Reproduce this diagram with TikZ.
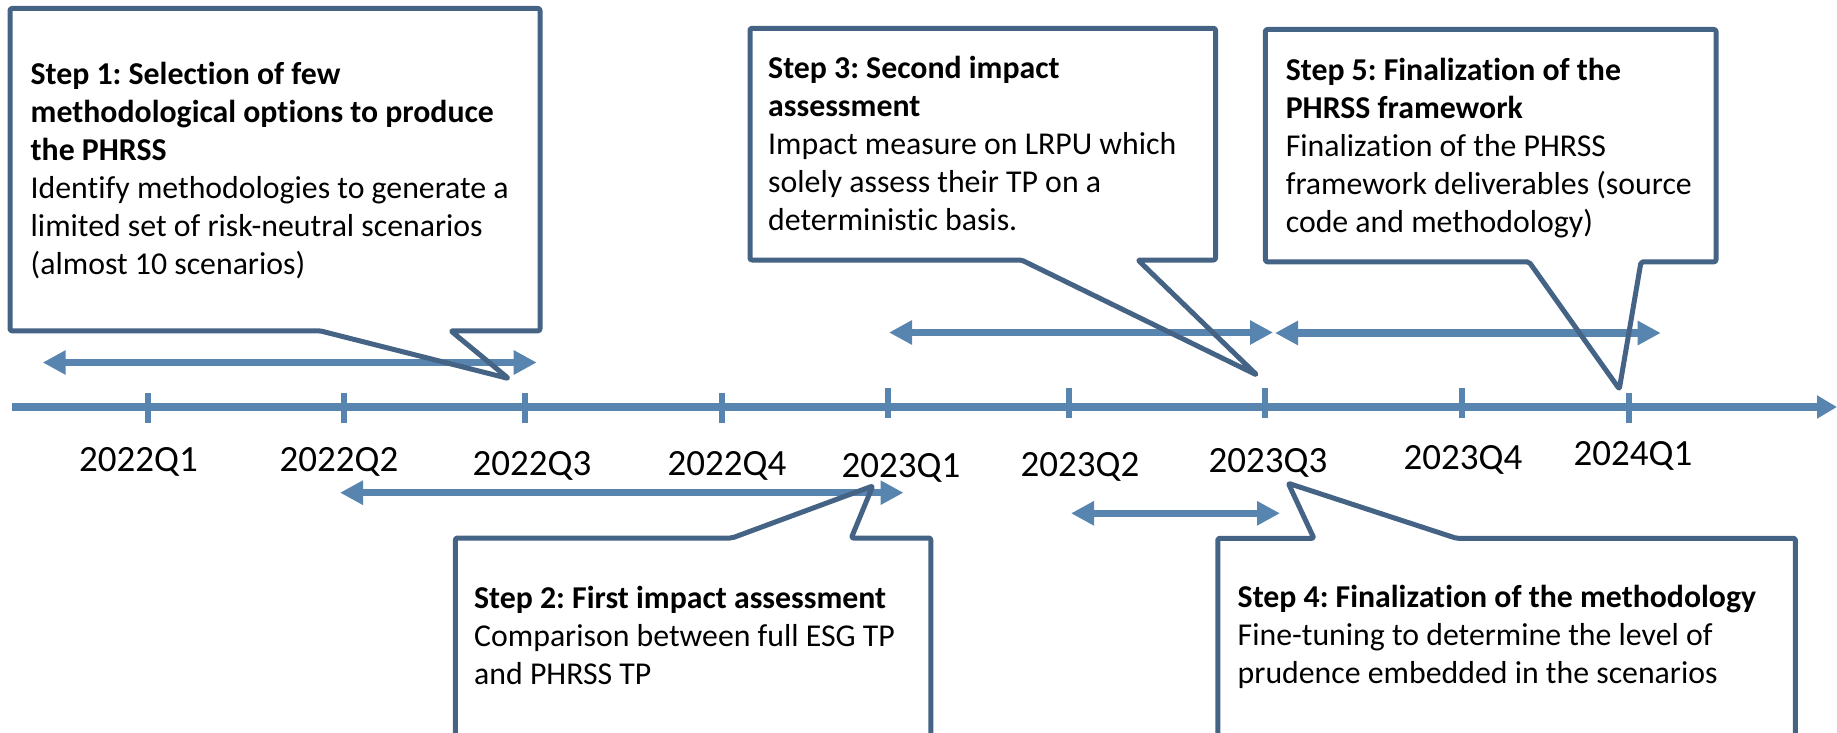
\documentclass[tikz,border=0pt]{standalone}
\usepackage{fontspec}
\setmainfont{Carlito}[Ligatures=NoCommon]
\usetikzlibrary{arrows.meta,positioning}

\definecolor{lineblue}{RGB}{88,132,176}
\definecolor{boxblue}{RGB}{68,99,133}

\begin{document}
\frenchspacing
\begin{tikzpicture}[
  x=1pt, y=-1pt,
  steptext/.style={
    anchor=base west,
    inner sep=0pt,
    align=left,
    font=\fontsize{31.8}{38}\selectfont
  },
  qlabel/.style={
    anchor=base,
    inner sep=0pt,
    font=\fontsize{37}{44}\selectfont
  },
  callout/.style={draw=boxblue, line width=5pt, line join=round, rounded corners=2pt},
  timeline/.style={draw=lineblue, line width=8.3pt, -{Triangle[length=20pt,width=22pt]}},
  qtick/.style={draw=lineblue, line width=6pt},
  span/.style={draw=lineblue, line width=7.5pt,
    {Triangle[length=23pt,width=23pt]}-{Triangle[length=23pt,width=23pt]}}
]
\useasboundingbox (0,0) rectangle (1837,733);

% time axis
\coordinate (axstart) at (12,407);
\coordinate (axend) at (1837,407);
\draw[timeline] (axstart) -- (axend);

\draw[qtick] (147.7,393) -- (147.7,423);
\draw[qtick] (344.3,393) -- (344.3,423);
\draw[qtick] (525.4,393) -- (525.4,423);
\draw[qtick] (722,393) -- (722,423);
\draw[qtick] (888.3,388) -- (888.3,418);
\draw[qtick] (1069,388) -- (1069,418);
\draw[qtick] (1265,388) -- (1265,418);
\draw[qtick] (1462,388) -- (1462,418);
\draw[qtick] (1629,393) -- (1629,423);

\node[qlabel] (q22a) at (138.5,471.7) {2022Q1};
\node[qlabel] (q22b) at (339,471.7) {2022Q2};
\node[qlabel] (q22c) at (532,475) {2022Q3};
\node[qlabel] (q22d) at (727,475) {2022Q4};
\node[qlabel] (q23a) at (901,477) {2023Q1};
\node[qlabel] (q23b) at (1080,476.5) {2023Q2};
\node[qlabel] (q23c) at (1268,472) {2023Q3};
\node[qlabel] (q23d) at (1463,469.5) {2023Q4};
\node[qlabel] (q24a) at (1633,465.5) {2024Q1};

% step durations
\coordinate (s1a) at (42.7,362.5);
\coordinate (s1b) at (536.7,362.5);
\coordinate (s2a) at (340,492.7);
\coordinate (s2b) at (903.5,492.7);
\coordinate (s3a) at (889,332.5);
\coordinate (s3b) at (1273,332.5);
\coordinate (s4a) at (1071,513.3);
\coordinate (s4b) at (1280,513.3);
\coordinate (s5a) at (1275,333);
\coordinate (s5b) at (1660.7,333);
\draw[span] (s1a) -- (s1b);
\draw[span] (s2a) -- (s2b);
\draw[span] (s3a) -- (s3b);
\draw[span] (s4a) -- (s4b);
\draw[span] (s5a) -- (s5b);

% callouts
\draw[callout] (10,8.5) -- (540,8.5) -- (540,330.8) -- (450.8,330.8)
  -- (508.5,378.5) -- (320,330.8) -- (10,330.8) -- cycle;
\draw[callout] (455.4,760) -- (455.4,538) -- (732,538) -- (872.7,486)
  -- (851.3,538) -- (930.8,538) -- (930.8,760);
\draw[callout] (750,28.3) -- (1215.5,28.3) -- (1215.5,260) -- (1138,260)
  -- (1256.8,375) -- (1021.5,260) -- (750,260) -- cycle;
\draw[callout] (1217.8,760) -- (1217.8,538.3) -- (1313.9,538.3) -- (1288.3,483.3)
  -- (1456.4,538.3) -- (1795.4,538.3) -- (1795.4,760);
\draw[callout] (1265.4,29.5) -- (1716,29.5) -- (1716,261.8) -- (1641,261.8)
  -- (1619.3,389) -- (1529,261.8) -- (1265.4,261.8) -- cycle;

% texts, placed by the baseline of their last line
\node[steptext] (step1) at (30.5,274.5) {\textbf{Step 1: Selection of few}\\
  \textbf{methodological options to produce}\\
  \textbf{the PHRSS}\\
  Identify methodologies to generate a\\
  limited set of risk-neutral scenarios\\
  (almost 10 scenarios)};
\node[steptext] (step2) at (474,684) {\textbf{Step 2: First impact assessment}\\
  Comparison between full ESG TP\\
  and PHRSS TP};
\node[steptext] (step3) at (768,230) {\textbf{Step 3: Second impact}\\
  \textbf{assessment}\\
  Impact measure on LRPU which\\
  solely assess their TP on a\\
  deterministic basis.};
\node[steptext] (step4) at (1237.5,683.5) {\textbf{Step 4: Finalization of the methodology}\\
  Fine-tuning to determine the level of\\
  prudence embedded in the scenarios};
\node[steptext] (step5) at (1285.6,232) {\textbf{Step 5: Finalization of the}\\
  \textbf{PHRSS framework}\\
  Finalization of the PHRSS\\
  framework deliverables (source\\
  code and methodology)};

\end{tikzpicture}
\end{document}
